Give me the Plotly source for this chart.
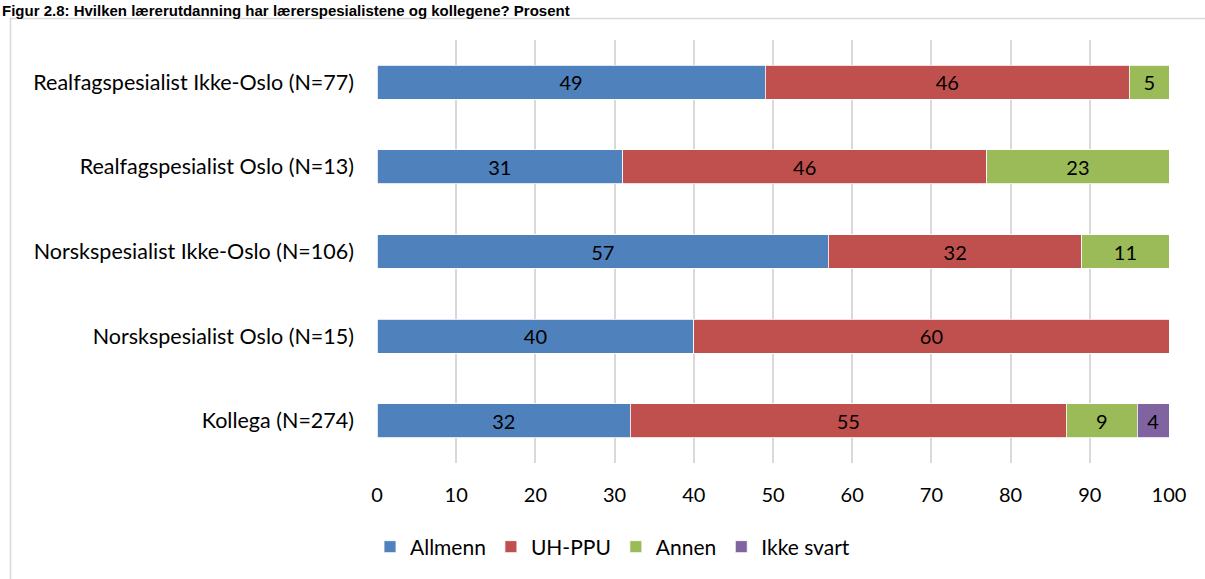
import plotly.graph_objects as go

categories = [
    "Kollega (N=274)",
    "Norskspesialist Oslo (N=15)",
    "Norskspesialist Ikke-Oslo (N=106)",
    "Realfagspesialist Oslo (N=13)",
    "Realfagspesialist Ikke-Oslo (N=77)",
]
allmenn = [32, 40, 57, 31, 49]
uh_ppu = [55, 60, 32, 46, 46]
annen = [9, 0, 11, 23, 5]
ikke_svart = [4, 0, 0, 0, 0]
x_ticks = [0, 10, 20, 30, 40, 50, 60, 70, 80, 90, 100]
title_text = "Figur 2.8: Hvilken lærerutdanning har lærerspesialistene og kollegene? Prosent"

series = [
    ("Allmenn", allmenn, "#4F81BD"),
    ("UH-PPU", uh_ppu, "#C0504D"),
    ("Annen", annen, "#9BBB59"),
    ("Ikke svart", ikke_svart, "#8064A2"),
]

FONT = "Lato"
fig = go.Figure()
for name, vals, color in series:
    fig.add_trace(go.Bar(
        y=categories, x=vals, name=name, orientation="h",
        marker=dict(color=color, line=dict(color="white", width=0.8)),
        text=[str(v) if v else "" for v in vals],
        textposition="inside", insidetextanchor="middle",
        textfont=dict(family=FONT, size=20, color="black"),
        cliponaxis=False,
    ))

L, R, T, B = 377, 36, 40, 116
W, H = 1205, 579
pw = W - L - R
ph = H - T - B

def px_x(x):
    return (x - L) / pw

def px_y(y):
    return (H - B - y) / ph

fig.update_layout(
    barmode="stack",
    bargap=0.6,
    width=W, height=H,
    margin=dict(l=L, r=R, t=T, b=B),
    paper_bgcolor="white", plot_bgcolor="white",
    font=dict(family=FONT, size=20, color="black"),
    uniformtext=dict(minsize=10, mode="show"),
    xaxis=dict(
        range=[0, 100], tickvals=x_ticks, showgrid=True,
        gridcolor="#D9D9D9", gridwidth=1.5, zeroline=False,
        showline=False, ticks="", ticklabelstandoff=18,
        tickfont=dict(family=FONT, size=20, color="black"),
        fixedrange=True,
    ),
    yaxis=dict(
        categoryorder="array", categoryarray=categories,
        showgrid=False, zeroline=False, showline=False, ticks="",
        ticklabelstandoff=22,
        tickfont=dict(family=FONT, size=21.5, color="black"),
    ),
    legend=dict(
        orientation="h", x=px_x(370), xanchor="left",
        y=px_y(547), yanchor="middle",
        font=dict(family=FONT, size=21, color="black"),
        traceorder="normal", itemwidth=30,
        tracegroupgap=0,
    ),
    shapes=[dict(
        type="rect", xref="paper", yref="paper",
        x0=px_x(10.5), x1=px_x(1215), y0=px_y(18.5), y1=px_y(600),
        line=dict(color="#D9D9D9", width=1.5), layer="below",
    )],
    annotations=[dict(
        text="<b>" + title_text + "</b>", xref="paper", yref="paper",
        x=px_x(0), y=px_y(0), xanchor="left", yanchor="top",
        showarrow=False, font=dict(family="Liberation Sans", size=15, color="black"),
    )],
)

fig.write_html("out.html", config={"displayModeBar": False},
               post_script="document.body.style.margin='0';")
